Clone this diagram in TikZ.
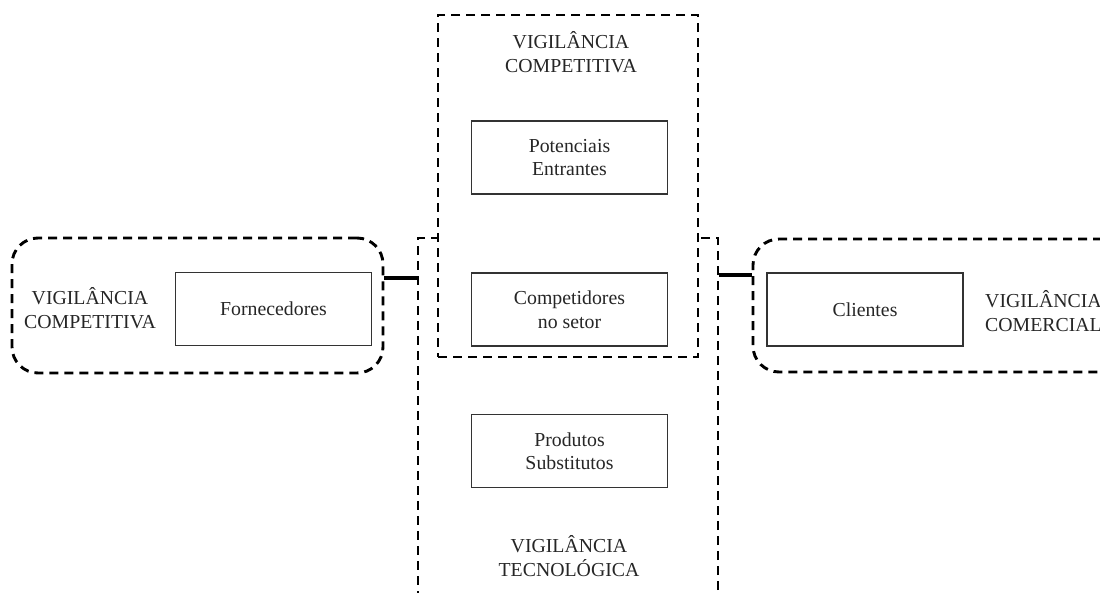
\documentclass[tikz,border=0pt]{standalone}
\usepackage{fontspec}
\setmainfont{Liberation Serif}
\begin{document}
\begin{tikzpicture}[x=1pt,y=-1pt,
  every node/.style={font=\fontsize{19.8}{23.5}\selectfont, text=black!85},
  item/.style={draw=black!80, line width=1.2pt, minimum width=196pt, minimum height=73pt, inner sep=0pt, align=center},
  group/.style={draw=black, line width=2.9pt, dash pattern=on 9pt off 6pt, inner sep=0pt},
  label/.style={align=center, inner sep=0pt},
  link/.style={draw=black, line width=3.5pt}]
\useasboundingbox (0,0) rectangle (1100,592);
\clip (0,0) rectangle (1100,592);
% groups
\node[group, rounded corners=26pt, minimum width=371pt, minimum height=135pt] (lg) at (197.5,305.5) {};
\node[group, rounded corners=26pt, minimum width=390pt, minimum height=133pt] (rg) at (948,305.5) {};
\node[group, minimum width=300pt, minimum height=382pt] (tech) at (568,429) {};
\node[group, fill=white, minimum width=260pt, minimum height=342pt] (comp) at (568,186) {};
% items
\node[item] (forn) at (273.5,309) {Fornecedores};
\node[item] (pot) at (569.5,157.5) {Potenciais\\Entrantes};
\node[item] (cmp) at (569.5,309.5) {Competidores\\no setor};
\node[item] (prod) at (569.5,451) {Produtos\\Substitutos};
\node[item] (cli) at (865,309.5) {Clientes};
% labels
\node[label] (l1) at (90,308) {VIGILÂNCIA\\COMPETITIVA};
\node[label] (l2) at (571,52) {VIGILÂNCIA\\COMPETITIVA};
\node[label] (l3) at (569,556) {VIGILÂNCIA\\TECNOLÓGICA};
\node[label, anchor=west, align=left] (l4) at (985,311) {VIGILÂNCIA\\COMERCIAL};
% connectors
\draw[link] (lg.east |- 0,278) -- (tech.west |- 0,278);
\draw[link] (tech.east |- 0,275) -- (rg.west |- 0,275);
\end{tikzpicture}
\end{document}
